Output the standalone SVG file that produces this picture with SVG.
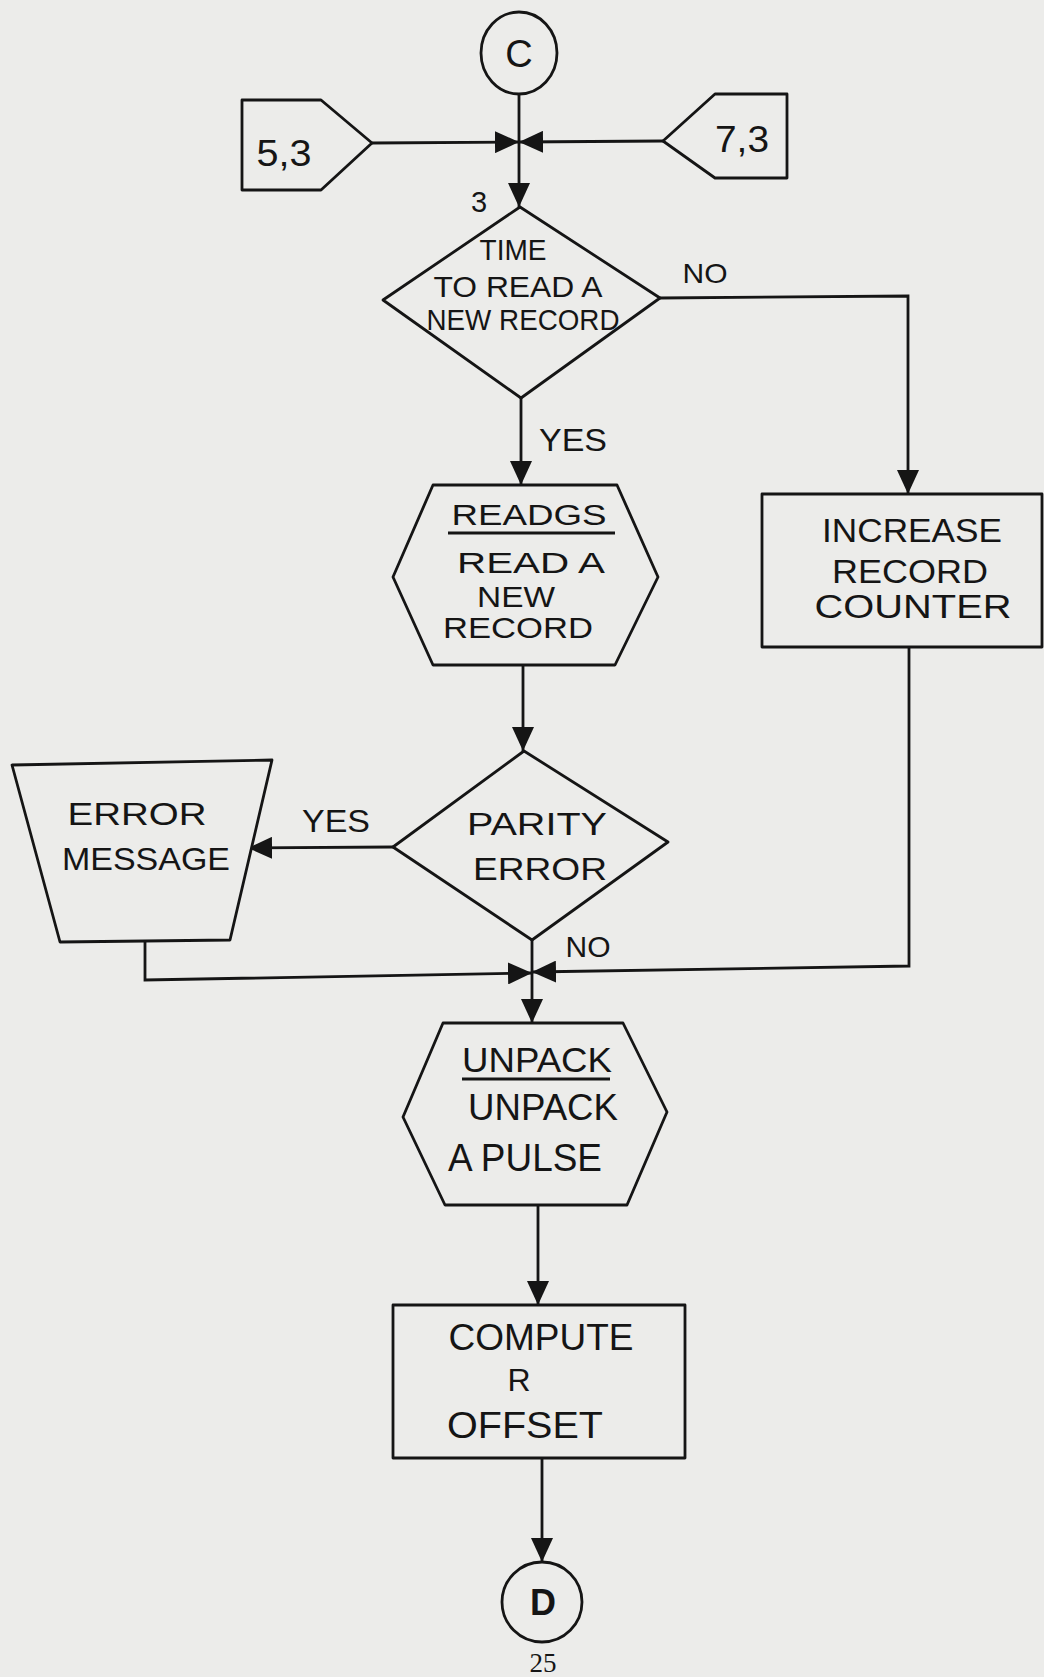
<svg xmlns="http://www.w3.org/2000/svg" width="1044" height="1677" viewBox="0 0 1044 1677">
<style>
.n{fill:#ececea;stroke:#151515;stroke-width:2.8;stroke-linejoin:round}
.t{font-family:"Liberation Sans",Arial,sans-serif;fill:#151515;text-anchor:middle}
.c{stroke:#151515;stroke-width:2.8;fill:none}
</style>
<defs>
<marker id="ah" viewBox="0 0 24 22" refX="24" refY="11" markerWidth="24" markerHeight="22" markerUnits="userSpaceOnUse" orient="auto">
<path d="M0,0 L24,11 L0,22 Z" fill="#151515"/>
</marker>
</defs>
<rect width="1044" height="1677" fill="#ececea"/>
<g id="connectors">
<path class="c" d="M519,94 L519,207" marker-end="url(#ah)"/>
<path class="c" d="M372,143 L519,142" marker-end="url(#ah)"/>
<path class="c" d="M663,141 L519,142" marker-end="url(#ah)"/>
<path class="c" d="M660,298 L908,296 L908,494" marker-end="url(#ah)"/>
<path class="c" d="M521,398 L521,485" marker-end="url(#ah)"/>
<path class="c" d="M523,665 L523,751" marker-end="url(#ah)"/>
<path class="c" d="M393,847 L248,848" marker-end="url(#ah)"/>
<path class="c" d="M145,942 L145,980 L532,973" marker-end="url(#ah)"/>
<path class="c" d="M909,647 L909,966 L532,972" marker-end="url(#ah)"/>
<path class="c" d="M532,940 L532,1023" marker-end="url(#ah)"/>
<path class="c" d="M538,1205 L538,1305" marker-end="url(#ah)"/>
<path class="c" d="M542,1458 L542,1562" marker-end="url(#ah)"/>
<text class="t" x="705" y="283" font-size="28" textLength="45" lengthAdjust="spacingAndGlyphs">NO</text>
<text class="t" x="573" y="451" font-size="32" textLength="68" lengthAdjust="spacingAndGlyphs">YES</text>
<text class="t" x="336" y="832" font-size="32" textLength="68" lengthAdjust="spacingAndGlyphs">YES</text>
<text class="t" x="588" y="957" font-size="30" textLength="45" lengthAdjust="spacingAndGlyphs">NO</text>
<text class="t" x="479" y="212" font-size="29">3</text>
</g>
<g id="connC">
<ellipse class="n" cx="519" cy="53" rx="38" ry="41"/>
<text class="t" x="519" y="67" font-size="38">C</text>
</g>
<g id="off53">
<path class="n" d="M242,100 L321,100 L372,143 L321,190 L242,190 Z"/>
<text class="t" x="284" y="166" font-size="36" textLength="55" lengthAdjust="spacingAndGlyphs">5,3</text>
</g>
<g id="off73">
<path class="n" d="M663,141 L715,94 L787,94 L787,178 L715,178 Z"/>
<text class="t" x="742" y="152" font-size="36" textLength="54" lengthAdjust="spacingAndGlyphs">7,3</text>
</g>
<g id="dec1">
<path class="n" d="M520,207 L660,298 L521,398 L383,300 Z"/>
<text class="t" x="513" y="260" font-size="29" textLength="67" lengthAdjust="spacingAndGlyphs">TIME</text>
<text class="t" x="518" y="297" font-size="29" textLength="169" lengthAdjust="spacingAndGlyphs">TO READ A</text>
<text class="t" x="523" y="330" font-size="29" textLength="193" lengthAdjust="spacingAndGlyphs">NEW RECORD</text>
</g>
<g id="readgs">
<path class="n" d="M433,485 L617,485 L658,577 L615,665 L433,665 L393,577 Z"/>
<text class="t" x="529" y="525" font-size="30" textLength="155" lengthAdjust="spacingAndGlyphs">READGS</text>
<line class="c" x1="448" y1="533" x2="615" y2="533"/>
<text class="t" x="531" y="573" font-size="30" textLength="148" lengthAdjust="spacingAndGlyphs">READ A</text>
<text class="t" x="516" y="607" font-size="30" textLength="78" lengthAdjust="spacingAndGlyphs">NEW</text>
<text class="t" x="518" y="638" font-size="30" textLength="150" lengthAdjust="spacingAndGlyphs">RECORD</text>
</g>
<g id="incr">
<rect class="n" x="762" y="494" width="280" height="153"/>
<text class="t" x="912" y="542" font-size="33" textLength="180" lengthAdjust="spacingAndGlyphs">INCREASE</text>
<text class="t" x="910" y="583" font-size="33" textLength="156" lengthAdjust="spacingAndGlyphs">RECORD</text>
<text class="t" x="913" y="618" font-size="33" textLength="197" lengthAdjust="spacingAndGlyphs">COUNTER</text>
</g>
<g id="dec2">
<path class="n" d="M524,751 L668,842 L532,940 L393,847 Z"/>
<text class="t" x="537" y="835" font-size="31" textLength="140" lengthAdjust="spacingAndGlyphs">PARITY</text>
<text class="t" x="540" y="880" font-size="31" textLength="134" lengthAdjust="spacingAndGlyphs">ERROR</text>
</g>
<g id="errmsg">
<path class="n" d="M12,765 L272,760 L230,940 L60,942 Z"/>
<text class="t" x="137" y="825" font-size="31" textLength="139" lengthAdjust="spacingAndGlyphs">ERROR</text>
<text class="t" x="146" y="870" font-size="32" textLength="168" lengthAdjust="spacingAndGlyphs">MESSAGE</text>
</g>
<g id="unpack">
<path class="n" d="M443,1023 L623,1023 L667,1112 L627,1205 L445,1205 L403,1117 Z"/>
<text class="t" x="537" y="1072" font-size="35" textLength="150" lengthAdjust="spacingAndGlyphs">UNPACK</text>
<line class="c" x1="462" y1="1079" x2="610" y2="1079"/>
<text class="t" x="543" y="1120" font-size="36" textLength="150" lengthAdjust="spacingAndGlyphs">UNPACK</text>
<text class="t" x="525" y="1171" font-size="38" textLength="154" lengthAdjust="spacingAndGlyphs">A PULSE</text>
</g>
<g id="compute">
<rect class="n" x="393" y="1305" width="292" height="153"/>
<text class="t" x="541" y="1350" font-size="36" textLength="185" lengthAdjust="spacingAndGlyphs">COMPUTE</text>
<text class="t" x="519" y="1391" font-size="32">R</text>
<text class="t" x="525" y="1438" font-size="37" textLength="156" lengthAdjust="spacingAndGlyphs">OFFSET</text>
</g>
<g id="connD">
<circle class="n" cx="542" cy="1602" r="40"/>
<text class="t" x="543" y="1615" font-size="36" font-weight="bold">D</text>
</g>
<text font-family="Liberation Serif,serif" font-size="27" x="543" y="1672" text-anchor="middle" fill="#151515">25</text>
</svg>
